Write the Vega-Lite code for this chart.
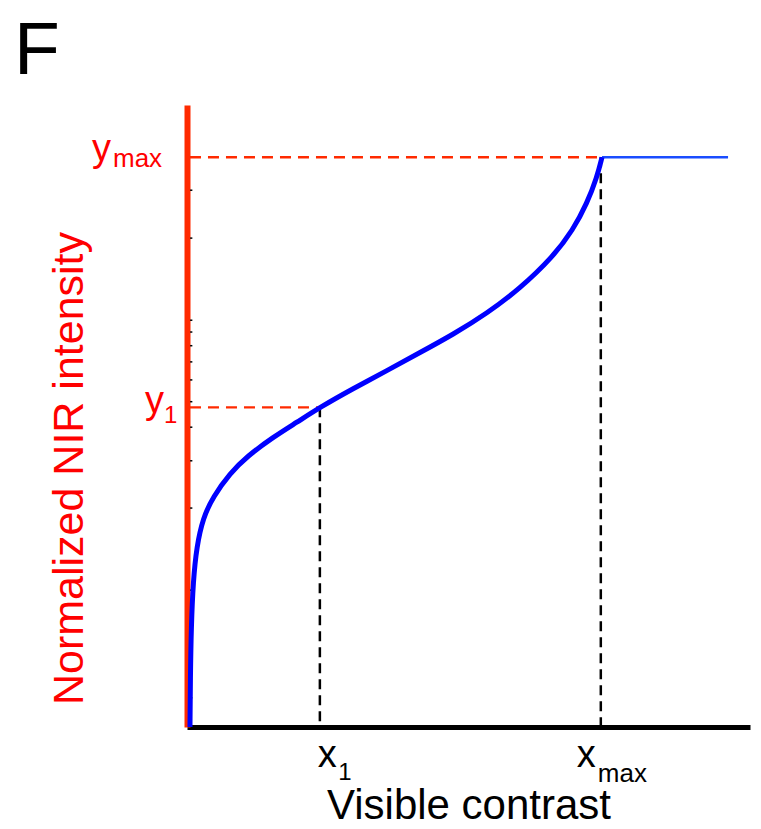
{
  "$schema": "https://vega.github.io/schema/vega-lite/v6.json",
  "width": 563,
  "height": 622,
  "autosize": {"type": "none"},
  "padding": {"left": 187, "top": 105, "right": 11, "bottom": 102},
  "background": "white",
  "config": {"view": {"stroke": null}, "font": "Liberation Sans"},
  "datasets": {
    "curve": [
      {"x": 0.53, "y": 0}, {"x": 0.6, "y": 8}, {"x": 0.75, "y": 16}, {"x": 1.1, "y": 23.5},
      {"x": 1.72, "y": 29.0}, {"x": 2.84, "y": 33.6}, {"x": 4.62, "y": 37.0}, {"x": 7.64, "y": 40.8},
      {"x": 10.66, "y": 43.5}, {"x": 15.28, "y": 46.6}, {"x": 19.54, "y": 49.0}, {"x": 23.62, "y": 51.4},
      {"x": 29.48, "y": 54.4}, {"x": 35.52, "y": 57.3}, {"x": 41.39, "y": 60.2}, {"x": 47.25, "y": 63.1},
      {"x": 53.29, "y": 66.5}, {"x": 59.15, "y": 70.5}, {"x": 65.01, "y": 75.6}, {"x": 68.56, "y": 79.9},
      {"x": 71.05, "y": 84.2}, {"x": 72.82, "y": 88.4}, {"x": 73.71, "y": 91.6}
    ],
    "flat": [{"x": 73.71, "y": 91.6}, {"x": 96.1, "y": 91.6}],
    "redGuides": [
      {"x": 0.53, "x2": 73.5, "y": 91.6},
      {"x": 0.53, "x2": 23.6, "y": 51.4}
    ],
    "blackGuides": [
      {"x": 23.6, "y": 51.4, "y2": 0},
      {"x": 73.5, "y": 91.6, "y2": 0}
    ],
    "minorTicks": [
      {"y": 86.3}, {"y": 78.6}, {"y": 65.4}, {"y": 63.5}, {"y": 61.3}, {"y": 58.7}, {"y": 55.8},
      {"y": 52.3}, {"y": 48.2}, {"y": 42.8}, {"y": 35.2}, {"y": 22.0}, {"y": 15.6}, {"y": 12.5},
      {"y": 8.8}, {"y": 4.7}
    ],
    "one": [{}]
  },
  "layer": [
    {
      "data": {"name": "minorTicks"},
      "mark": {"type": "rule", "color": "black", "strokeWidth": 1.5},
      "encoding": {
        "x": {"datum": 0.55, "type": "quantitative",
          "scale": {"domain": [0, 100], "nice": false, "zero": false},
          "axis": {"labels": false, "ticks": false, "grid": false, "domainColor": "black", "domainWidth": 5,
            "title": "Visible contrast", "titleFontSize": 42, "titleFont": "Liberation Sans", "titleFontWeight": "normal",
            "titleColor": "black", "titleBaseline": "alphabetic", "titleY": 91, "titleX": 281.5}},
        "x2": {"datum": 0.95},
        "y": {"field": "y", "type": "quantitative",
          "scale": {"domain": [0, 100], "nice": false, "zero": false},
          "axis": {"labels": false, "ticks": false, "grid": false, "domainColor": "#ff2a00", "domainWidth": 6,
            "title": "Normalized NIR intensity", "titleFontSize": 43, "titleFont": "Liberation Sans", "titleFontWeight": "normal",
            "titleColor": "#ff0000", "titleBaseline": "alphabetic", "titleAngle": 270, "titleAlign": "center",
            "titleX": -105, "titleY": 363}}
      }
    },
    {
      "data": {"name": "redGuides"},
      "mark": {"type": "rule", "color": "#ff2a00", "strokeWidth": 2.3, "strokeDash": [11, 7]},
      "encoding": {
        "x": {"field": "x", "type": "quantitative"},
        "x2": {"field": "x2"},
        "y": {"field": "y", "type": "quantitative"}
      }
    },
    {
      "data": {"name": "blackGuides"},
      "mark": {"type": "rule", "color": "black", "strokeWidth": 2.5, "strokeDash": [10, 6]},
      "encoding": {
        "x": {"field": "x", "type": "quantitative"},
        "y": {"field": "y", "type": "quantitative"},
        "y2": {"field": "y2"}
      }
    },
    {
      "data": {"name": "flat"},
      "mark": {"type": "line", "color": "#1a4dff", "strokeWidth": 2.5},
      "encoding": {
        "x": {"field": "x", "type": "quantitative"},
        "y": {"field": "y", "type": "quantitative"}
      }
    },
    {
      "data": {"name": "curve"},
      "mark": {"type": "line", "color": "#0000ff", "strokeWidth": 5, "interpolate": "basis"},
      "encoding": {
        "x": {"field": "x", "type": "quantitative"},
        "y": {"field": "y", "type": "quantitative"}
      }
    },
    {
      "data": {"name": "one"},
      "mark": {"type": "text", "text": "y", "fontSize": 38, "color": "#ff0000", "align": "left", "baseline": "alphabetic", "dx": -95, "dy": 4},
      "encoding": {"x": {"datum": 0, "type": "quantitative"}, "y": {"datum": 91.6, "type": "quantitative"}}
    },
    {
      "data": {"name": "one"},
      "mark": {"type": "text", "text": "max", "fontSize": 26, "color": "#ff0000", "align": "left", "baseline": "alphabetic", "dx": -74, "dy": 10},
      "encoding": {"x": {"datum": 0, "type": "quantitative"}, "y": {"datum": 91.6, "type": "quantitative"}}
    },
    {
      "data": {"name": "one"},
      "mark": {"type": "text", "text": "y", "fontSize": 38, "color": "#ff0000", "align": "left", "baseline": "alphabetic", "dx": -42, "dy": 5.5},
      "encoding": {"x": {"datum": 0, "type": "quantitative"}, "y": {"datum": 51.4, "type": "quantitative"}}
    },
    {
      "data": {"name": "one"},
      "mark": {"type": "text", "text": "1", "fontSize": 24, "color": "#ff0000", "align": "left", "baseline": "alphabetic", "dx": -23, "dy": 16},
      "encoding": {"x": {"datum": 0, "type": "quantitative"}, "y": {"datum": 51.4, "type": "quantitative"}}
    },
    {
      "data": {"name": "one"},
      "mark": {"type": "text", "text": "x", "fontSize": 38, "color": "black", "align": "left", "baseline": "alphabetic", "dx": -2, "dy": 40},
      "encoding": {"x": {"datum": 23.6, "type": "quantitative"}, "y": {"datum": 0, "type": "quantitative"}}
    },
    {
      "data": {"name": "one"},
      "mark": {"type": "text", "text": "1", "fontSize": 24, "color": "black", "align": "left", "baseline": "alphabetic", "dx": 18.5, "dy": 53},
      "encoding": {"x": {"datum": 23.6, "type": "quantitative"}, "y": {"datum": 0, "type": "quantitative"}}
    },
    {
      "data": {"name": "one"},
      "mark": {"type": "text", "text": "x", "fontSize": 38, "color": "black", "align": "left", "baseline": "alphabetic", "dx": -24, "dy": 40},
      "encoding": {"x": {"datum": 73.5, "type": "quantitative"}, "y": {"datum": 0, "type": "quantitative"}}
    },
    {
      "data": {"name": "one"},
      "mark": {"type": "text", "text": "max", "fontSize": 26, "color": "black", "align": "left", "baseline": "alphabetic", "dx": -3, "dy": 55},
      "encoding": {"x": {"datum": 73.5, "type": "quantitative"}, "y": {"datum": 0, "type": "quantitative"}}
    },
    {
      "data": {"name": "one"},
      "mark": {"type": "text", "text": "F", "fontSize": 75, "color": "black", "align": "left", "baseline": "alphabetic", "dx": -173, "dy": -31},
      "encoding": {"x": {"datum": 0, "type": "quantitative"}, "y": {"datum": 100, "type": "quantitative"}}
    }
  ]
}
